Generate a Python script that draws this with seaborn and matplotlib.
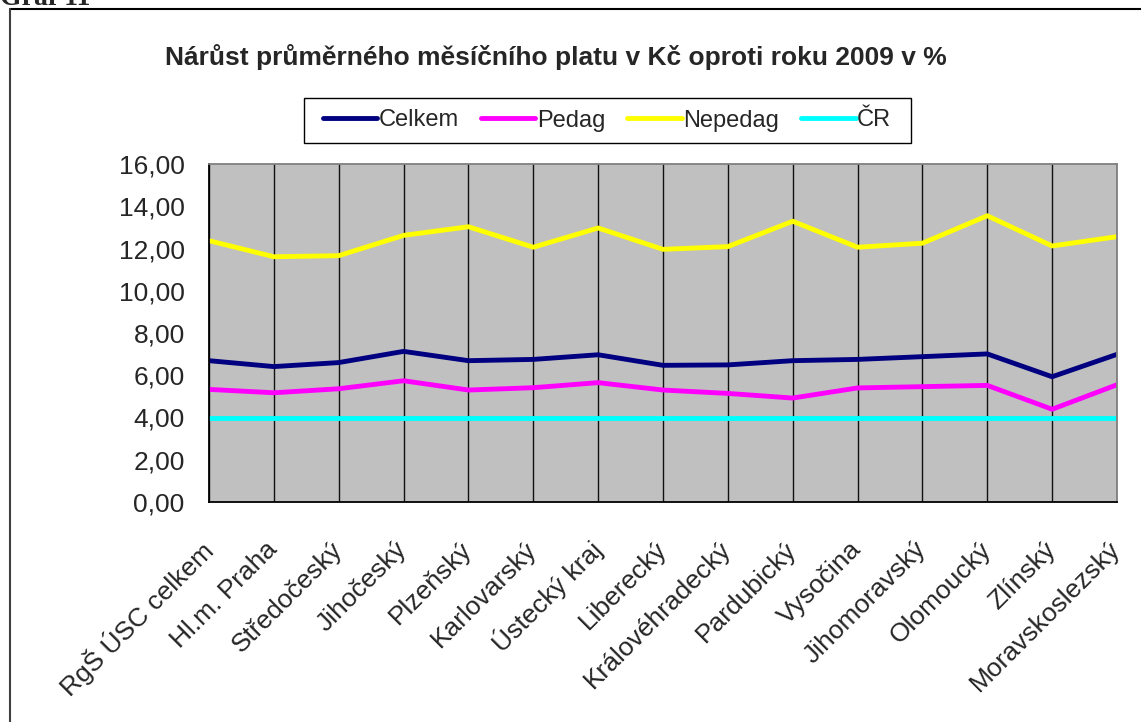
import numpy as np
import pandas as pd
import seaborn as sns
import matplotlib.pyplot as plt
from matplotlib.lines import Line2D
from matplotlib.patches import Rectangle

# === Data ===
kraje = ["RgŠ ÚSC celkem", "Hl.m. Praha", "Středočeský", "Jihočeský", "Plzeňský",
         "Karlovarský", "Ústecký kraj", "Liberecký", "Královéhradecký", "Pardubický",
         "Vysočina", "Jihomoravský", "Olomoucký", "Zlínský", "Moravskoslezský"]

celkem  = [6.69, 6.41, 6.60, 7.13, 6.69, 6.75, 6.97, 6.47, 6.49, 6.69, 6.75, 6.88, 7.01, 5.93, 6.99]
pedag   = [5.33, 5.17, 5.36, 5.74, 5.30, 5.41, 5.65, 5.30, 5.14, 4.92, 5.40, 5.46, 5.52, 4.39, 5.55]
nepedag = [12.37, 11.61, 11.66, 12.62, 13.03, 12.06, 12.97, 11.96, 12.09, 13.29, 12.06, 12.25, 13.55, 12.12, 12.56]
cr      = [4.00] * 15

series = ["Celkem", "Pedag", "Nepedag", "ČR"]
colors = {"Celkem": "#000080", "Pedag": "#FF00FF", "Nepedag": "#FFFF00", "ČR": "#00FFFF"}

# long format for seaborn
df = pd.DataFrame({
    "kraj": kraje * 4,
    "pos": list(range(len(kraje))) * 4,
    "value": celkem + pedag + nepedag + cr,
    "serie": sum([[s] * len(kraje) for s in series], []),
})

sns.set_style("white")
plt.rcParams["font.family"] = ["Liberation Sans", "DejaVu Sans"]

W, H = 1141, 722
fig = plt.figure(figsize=(W / 100, H / 100), dpi=100)
ax = fig.add_axes([209 / W, 1 - 502 / H, (1117 - 209) / W, (502 - 164) / H])
ax.set_facecolor("#C0C0C0")

# vertical gridlines at each category (drawn below the series)
ax.set_axisbelow(True)
ax.grid(axis="x", color="#111111", linewidth=1.0)
ax.grid(axis="y", visible=False)

sns.lineplot(data=df, x="pos", y="value", hue="serie", hue_order=series,
             palette=colors, linewidth=3.5, sort=False, legend=False, ax=ax)

ax.set_xlim(0, len(kraje) - 1)
ax.set_ylim(0, 16)
ax.set_xticks(range(len(kraje)))
ax.set_xticklabels(kraje, rotation=45, ha="right", va="center", rotation_mode="anchor", fontsize=19)
ax.set_yticks(np.arange(0, 17, 2))
ax.set_yticklabels([f"{v:.2f}".replace(".", ",") for v in np.arange(0, 17, 2)], fontsize=19)
ax.set_xlabel("")
ax.set_ylabel("")
ax.tick_params(axis="both", direction="out", length=6.5, width=1.2, color="black")
ax.tick_params(axis="y", pad=11)
ax.tick_params(axis="x", pad=25)

for side in ["left", "bottom"]:
    ax.spines[side].set_color("black")
    ax.spines[side].set_linewidth(1.3)
for side in ["top", "right"]:
    ax.spines[side].set_color("#808080")
    ax.spines[side].set_linewidth(1.3)

# title
fig.text(0.4875, 0.921, "Nárůst průměrného měsíčního platu v Kč oproti roku 2009 v %",
         ha="center", va="center", fontsize=19, fontweight="bold")

# legend (frame drawn separately to get Excel-like padding)
handles = [Line2D([], [], color=colors[s], linewidth=3.5) for s in series]
leg = fig.legend(handles, series, loc="center", bbox_to_anchor=(607 / W, 1 - 120.5 / H),
                 ncol=4, fontsize=17, frameon=False,
                 handlelength=2.3, handletextpad=0.05, columnspacing=0.95,
                 borderpad=0.3, borderaxespad=0)
fig.add_artist(Rectangle((304 / W, 1 - 143 / H), (911 - 304) / W, 45 / H,
                         transform=fig.transFigure, facecolor="none",
                         edgecolor="black", linewidth=1.0))

# outer chart frame (top and left edges visible) and caption
fig.add_artist(Line2D([10 / W, 1], [1 - 9 / H, 1 - 9 / H], color="black", linewidth=1.5))
fig.add_artist(Line2D([10 / W, 10 / W], [0, 1 - 9 / H], color="#404040", linewidth=1.5))
fig.text(0.0, 1 - 5 / H, "Graf 11", ha="left", va="baseline", fontsize=20,
         fontweight="bold", family="Liberation Serif")

fig.savefig("out.png", dpi=100)
